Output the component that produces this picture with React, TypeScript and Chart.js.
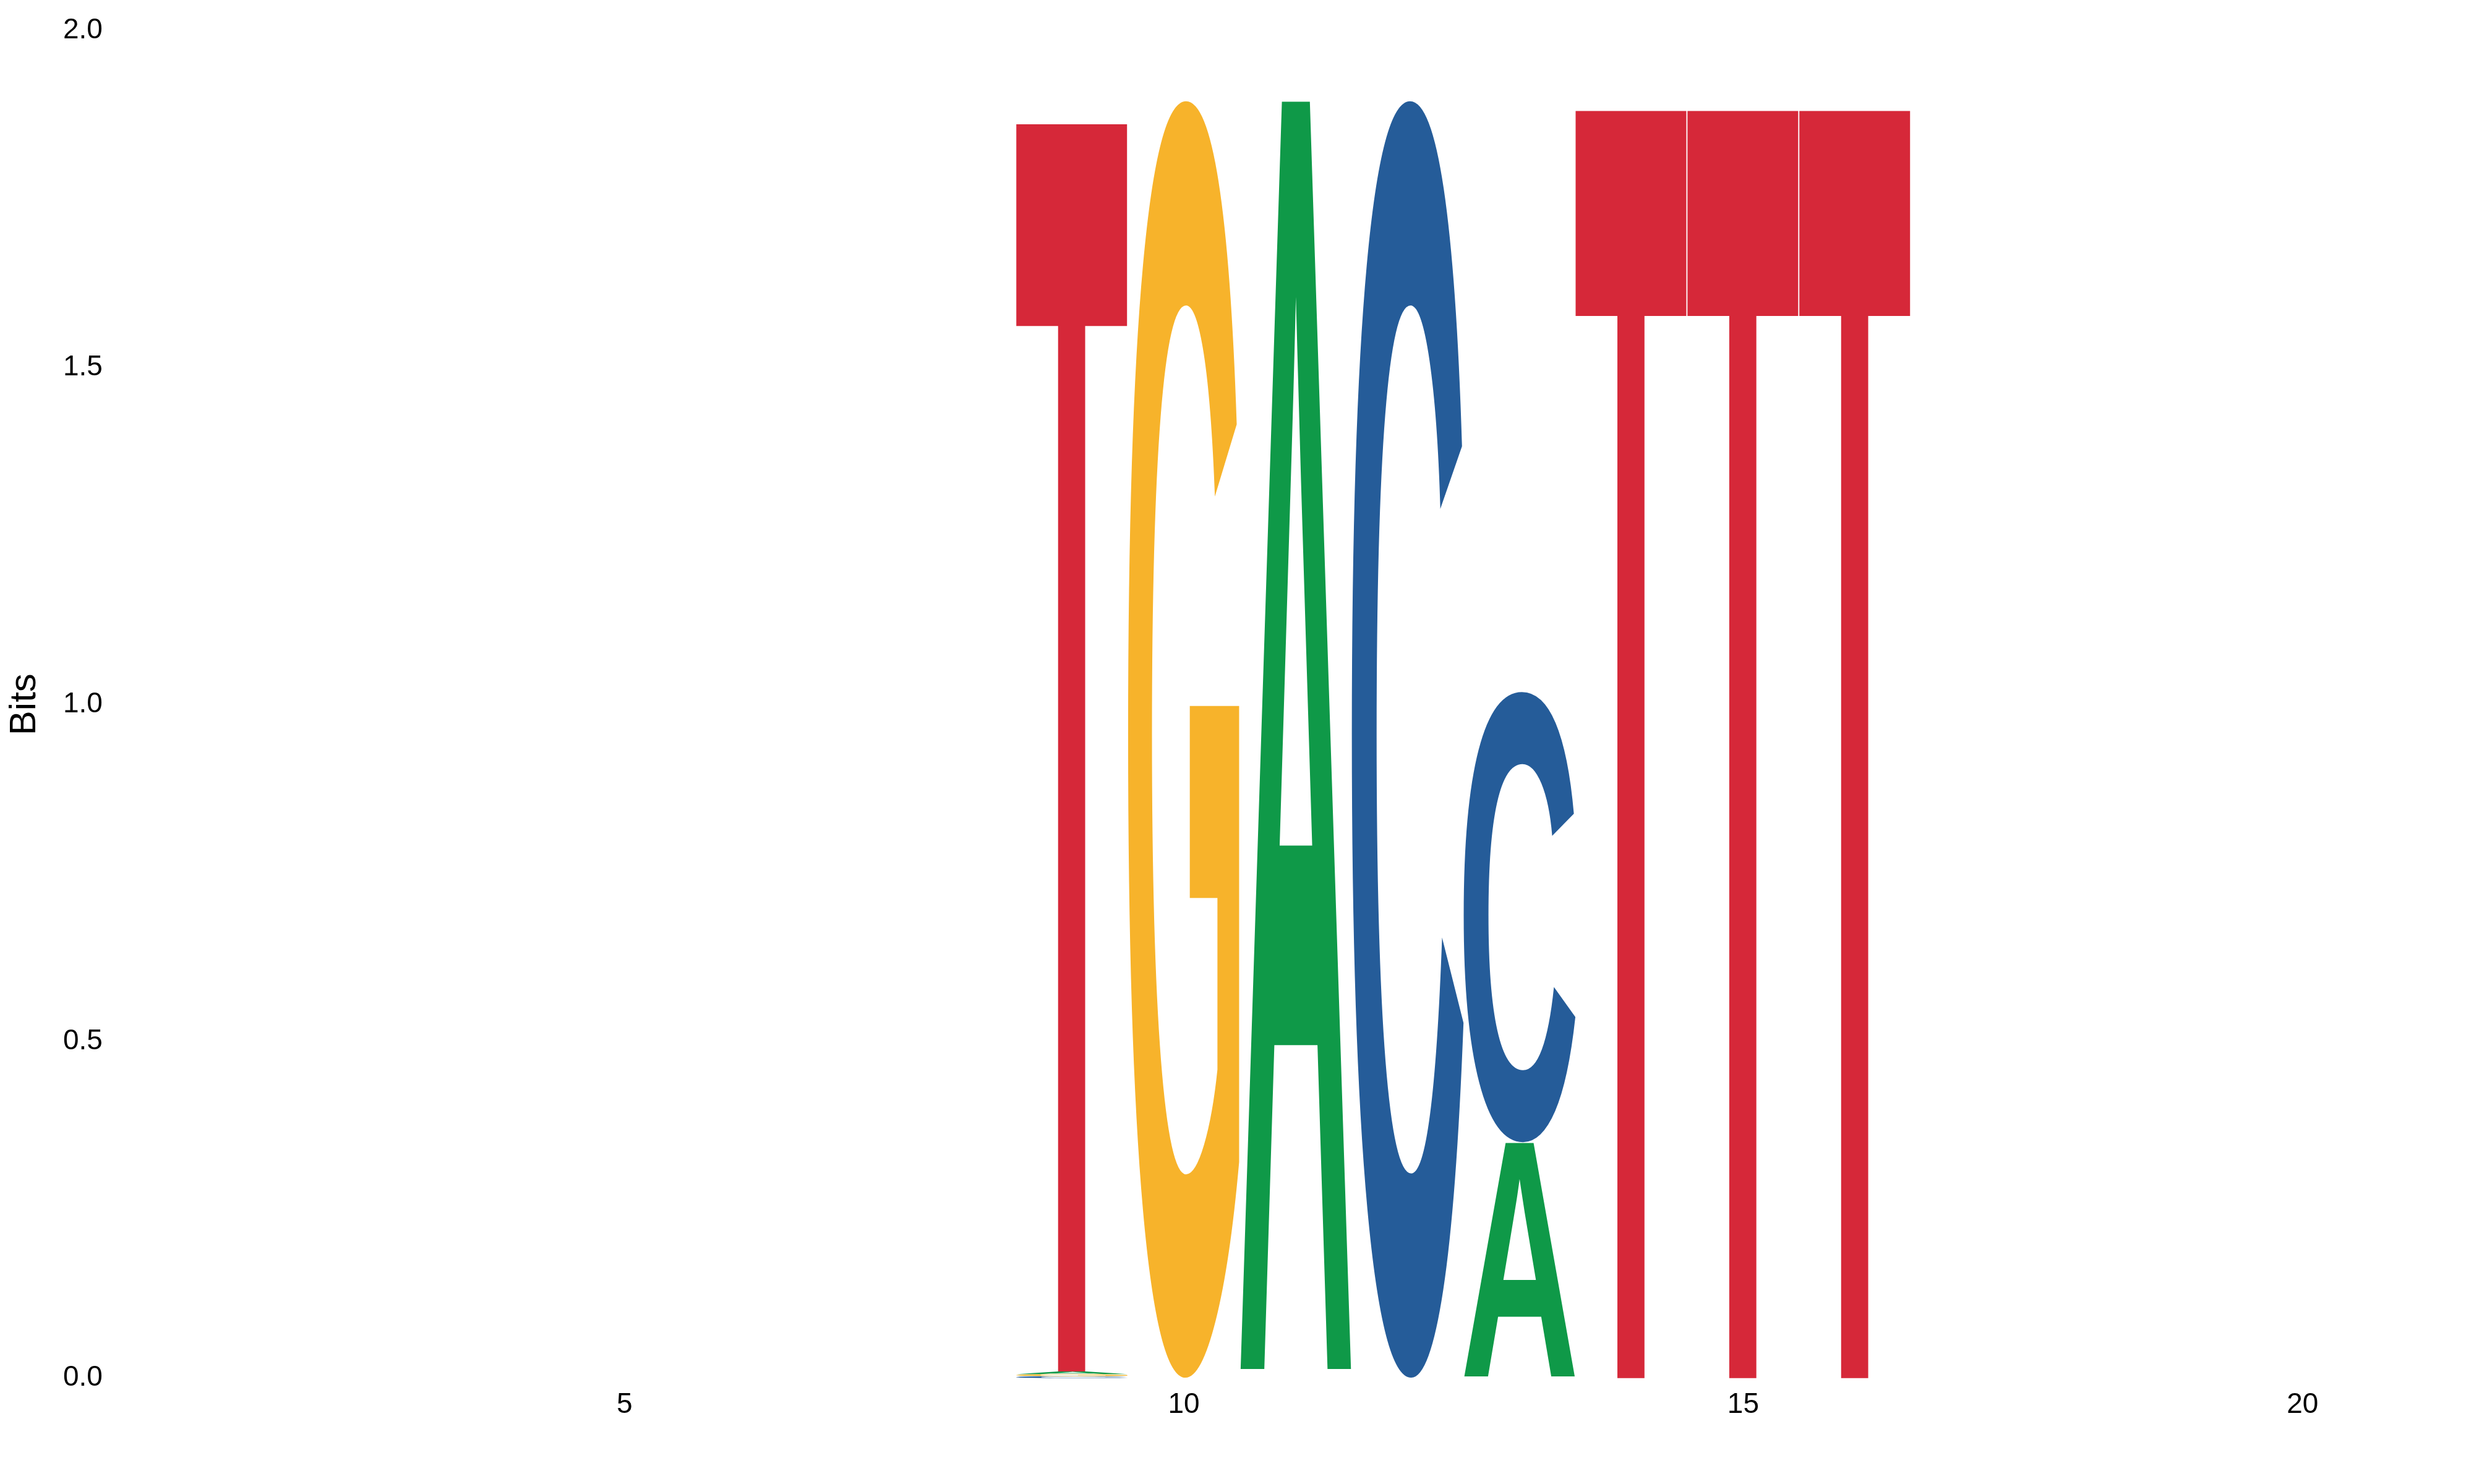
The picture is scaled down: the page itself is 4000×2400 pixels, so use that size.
import { useEffect, useRef } from "react"
import { Chart, registerables } from "chart.js"

Chart.register(...registerables)

// position 1..21, bits per letter
const positions = Array.from({ length: 21 }, (_, i) => i + 1)
const bitsA = [0, 0, 0, 0, 0, 0, 0, 0, 0.004, 0, 1.9, 0, 0.35, 0, 0, 0, 0, 0, 0, 0, 0]
const bitsC = [0, 0, 0, 0, 0, 0, 0, 0, 0.003, 0, 0, 1.9, 0.67, 0, 0, 0, 0, 0, 0, 0, 0]
const bitsG = [0, 0, 0, 0, 0, 0, 0, 0, 0.003, 1.9, 0, 0, 0, 0, 0, 0, 0, 0, 0, 0, 0]
const bitsT = [0, 0, 0, 0, 0, 0, 0, 0, 1.87, 0, 0, 0, 0, 1.9, 1.9, 1.9, 0, 0, 0, 0, 0]

const letterColors: Record<string, string> = {
    A: "#0f9948",
    C: "#255c99",
    G: "#f7b32b",
    T: "#d62839",
}

const logoPlugin = {
    id: "logo",
    afterDatasetsDraw(chart: any) {
        const ctx = chart.ctx as CanvasRenderingContext2D
        const xs = chart.scales.x
        const ys = chart.scales.y
        ctx.save()
        ctx.font = "bold 200px 'Liberation Sans'"
        ctx.textBaseline = "alphabetic"
        positions.forEach((p, i) => {
            const stack = [
                ["A", bitsA[i]],
                ["C", bitsC[i]],
                ["G", bitsG[i]],
                ["T", bitsT[i]],
            ]
                .filter((s) => (s[1] as number) > 0)
                .sort((a, b) => (a[1] as number) - (b[1] as number))
            let base = 0
            stack.forEach(([letter, h]) => {
                const hv = h as number
                const left = xs.getPixelForValue(p - 0.5)
                const right = xs.getPixelForValue(p + 0.5)
                const bottom = ys.getPixelForValue(base)
                const top = ys.getPixelForValue(base + hv)
                const m = ctx.measureText(letter as string)
                const w = m.actualBoundingBoxLeft + m.actualBoundingBoxRight
                const gh = m.actualBoundingBoxAscent + m.actualBoundingBoxDescent
                ctx.save()
                ctx.translate(left, bottom)
                ctx.scale((right - left) / w, (bottom - top) / gh)
                ctx.fillStyle = letterColors[letter as string]
                ctx.fillText(letter as string, m.actualBoundingBoxLeft, -m.actualBoundingBoxDescent)
                ctx.restore()
                base += hv
            })
        })
        ctx.restore()
    },
}

export default function App() {
    const chartRef = useRef<HTMLCanvasElement>(null)
    const chartInstance = useRef<Chart | null>(null)

    useEffect(() => {
        document.body.style.margin = "0"
        if (!chartRef.current) return
        if (chartInstance.current) chartInstance.current.destroy()
        const ctx = chartRef.current.getContext("2d")
        if (!ctx) return

        chartInstance.current = new Chart(ctx, {
            type: "scatter",
            data: { datasets: [{ data: [], label: "logo" }] },
            plugins: [logoPlugin],
            options: {
                animation: false,
                responsive: true,
                maintainAspectRatio: false,
                layout: { padding: { top: -16, right: 6, left: 0, bottom: 92 } },
                plugins: { legend: { display: false }, tooltip: { enabled: false } },
                scales: {
                    x: {
                        type: "linear",
                        min: 0.5,
                        max: 21.5,
                        afterBuildTicks: (axis: any) => {
                            axis.ticks = [5, 10, 15, 20].map((v) => ({ value: v }))
                        },
                        grid: { display: false },
                        border: { display: false },
                        ticks: { color: "#000", font: { size: 46, family: "'Liberation Sans'" }, padding: 8 },
                    },
                    y: {
                        min: 0,
                        max: 2,
                        ticks: {
                            stepSize: 0.5,
                            color: "#000",
                            padding: 22,
                            font: { size: 46, family: "'Liberation Sans'" },
                            callback: (v: any) => Number(v).toFixed(1),
                        },
                        grid: { display: false },
                        border: { display: false },
                        title: {
                            display: true,
                            text: "Bits",
                            color: "#000",
                            font: { size: 60, family: "'Liberation Sans'" },
                        },
                    },
                },
            },
        })

        return () => {
            if (chartInstance.current) chartInstance.current.destroy()
        }
    }, [])

    return (
        <div style={{ width: 4000, height: 2400, position: "relative" }}>
            <canvas ref={chartRef} />
        </div>
    )
}
